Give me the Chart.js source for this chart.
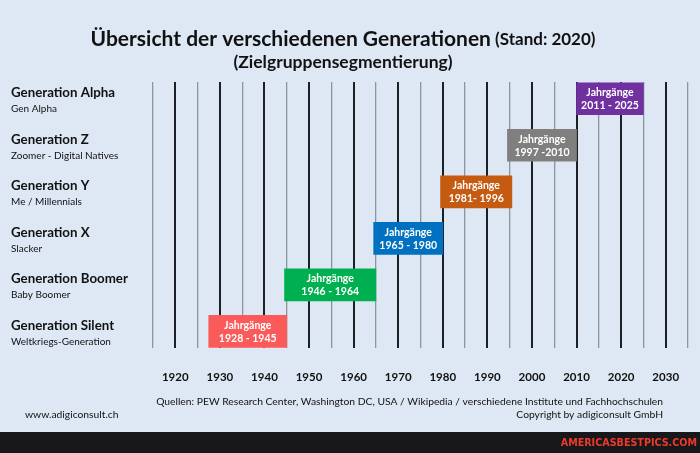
<!DOCTYPE html>
<html>
<head>
<meta charset="utf-8">
<script src="https://cdn.jsdelivr.net/npm/chart.js@4"></script>
<style>
  html, body { margin: 0; padding: 0; background: #dde8f4; }
  canvas { display: block; }
</style>
</head>
<body>
<canvas id="myChart" width="700" height="453"></canvas>
<script>
// Generationen von oben nach unten
const generationen = ['Generation Alpha', 'Generation Z', 'Generation Y', 'Generation X', 'Generation Boomer', 'Generation Silent'];
const untertitel = ['Gen Alpha', 'Zoomer - Digital Natives', 'Me / Millennials', 'Slacker', 'Baby Boomer', 'Weltkriegs-Generation'];
const jahrgaenge = ['2011 - 2025', '1997 -2010', '1981- 1996', '1965 - 1980', '1946 - 1964', '1928 - 1945'];

// Start / Ende der Balken
const startJahr = [2010, 1994.5, 1979.5, 1964.5, 1944.5, 1927.5];
const endJahr = [2025, 2010, 1995.5, 1980, 1965, 1945];

const farben = ['#7030a0', '#7f7f7f', '#c55a11', '#0070c0', '#00b050', '#fa5a5a'];

const achseMin = 1915;
const achseMax = 2035;

const schrift = 'Lato, "Open Sans", sans-serif';
const bg = '#dde8f4';

const canvas = document.getElementById('myChart');
const ctx = canvas.getContext('2d');

// Hintergrund, Titel, Beschriftungen
const deko = {
    id: 'deko',
    beforeDraw(chart) {
        const c = chart.ctx;
        c.save();
        c.fillStyle = bg;
        c.fillRect(0, 0, chart.width, chart.height);
        c.restore();
    },
    afterDraw(chart) {
        const c = chart.ctx;
        const yScale = chart.scales.y;
        c.save();

        // Titel
        c.fillStyle = '#111';
        c.textBaseline = 'middle';
        const t1 = 'Übersicht der verschiedenen Generationen';
        const t2 = ' (Stand: 2020)';
        c.font = 'bold 21px ' + schrift;
        const w1 = c.measureText(t1).width;
        c.font = 'bold 17px ' + schrift;
        const w2 = c.measureText(t2).width;
        let x0 = 343 - (w1 + w2) / 2;
        c.textAlign = 'left';
        c.font = 'bold 21px ' + schrift;
        c.fillText(t1, x0, 39);
        c.font = 'bold 17px ' + schrift;
        c.fillText(t2, x0 + w1, 40);
        c.textAlign = 'center';
        c.font = 'bold 17.5px ' + schrift;
        c.fillText('(Zielgruppensegmentierung)', 343, 62);

        // Namen links
        c.textAlign = 'left';
        generationen.forEach((g, i) => {
            const y = yScale.getPixelForValue(i);
            c.fillStyle = '#111';
            c.font = 'bold 13.3px ' + schrift;
            c.fillText(g, 11, y - 6);
            c.font = '10px ' + schrift;
            c.fillText(untertitel[i], 11, y + 10);
        });

        // Text in den Balken
        const meta = chart.getDatasetMeta(0);
        c.fillStyle = '#fff';
        c.textAlign = 'center';
        c.font = 'bold 10.5px ' + schrift;
        meta.data.forEach((bar, i) => {
            const p = bar.getProps(['x', 'base', 'y'], true);
            const cx = (p.x + p.base) / 2;
            c.fillText('Jahrgänge', cx, p.y - 6);
            c.fillText(jahrgaenge[i], cx, p.y + 7);
        });

        // Fusszeile
        c.fillStyle = '#111';
        c.font = '10.3px ' + schrift;
        c.textAlign = 'right';
        c.fillText('Quellen: PEW Research Center, Washington DC, USA / Wikipedia / verschiedene Institute und Fachhochschulen', 663, 402);
        c.fillText('Copyright by adigiconsult GmbH', 663, 415);
        c.textAlign = 'left';
        c.fillText('www.adigiconsult.ch', 25, 415);

        // schwarzer Balken unten
        c.fillStyle = '#18171a';
        c.fillRect(0, 432, chart.width, chart.height - 432);
        c.fillStyle = '#ee3a2c';
        c.textAlign = 'right';
        c.font = 'bold 9.6px "DejaVu Sans", sans-serif';
        c.fillText('AMERICASBESTPICS.COM', 697, 443);

        c.restore();
    }
};

const daten = generationen.map((g, i) => ({ x: [startJahr[i], endJahr[i]], y: i }));

const myChart = new Chart(ctx, {
    type: 'bar',
    data: {
        datasets: [{
            data: daten,
            backgroundColor: farben,
            barThickness: 32,
            borderWidth: 0
        }]
    },
    options: {
        indexAxis: 'y',
        responsive: false,
        animation: false,
        devicePixelRatio: 1,
        layout: {
            padding: { left: 153, right: 12, top: 82, bottom: 69 }
        },
        plugins: {
            legend: { display: false },
            tooltip: { enabled: false },
            title: { display: false }
        },
        scales: {
            x: {
                type: 'linear',
                min: achseMin,
                max: achseMax,
                border: { display: false },
                grid: {
                    drawTicks: true,
                    tickLength: 22,
                    tickColor: 'rgba(0,0,0,0)',
                    color: (c) => (c.tick && c.tick.value % 10 === 0) ? '#1c2024' : '#8d949b',
                    lineWidth: (c) => (c.tick && c.tick.value % 10 === 0) ? 2 : 1.3
                },
                ticks: {
                    stepSize: 5,
                    padding: 0,
                    autoSkip: false,
                    maxRotation: 0,
                    minRotation: 0,
                    color: '#111',
                    font: { family: schrift, size: 11.5, weight: 'bold' },
                    callback: (v) => v % 10 === 0 ? String(v) : ''
                }
            },
            y: {
                type: 'linear',
                display: false,
                offset: false,
                reverse: true,
                min: -0.36,
                max: 5.36
            }
        }
    },
    plugins: [deko]
});
</script>
</body>
</html>
